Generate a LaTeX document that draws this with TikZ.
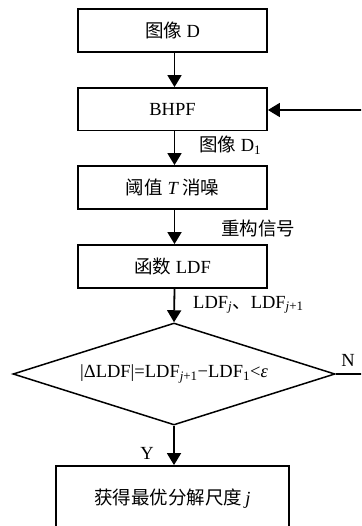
\documentclass[tikz,border=0pt]{standalone}
\usepackage{fontspec}
\setmainfont{Liberation Serif}
\newfontfamily\cjk{Noto Sans CJK SC}
\usetikzlibrary{arrows.meta,shapes.geometric}
\begin{document}
\begin{tikzpicture}[x=1pt,y=-1pt,
  font=\fontsize{18.5}{22}\selectfont,
  box/.style={draw,line width=1.8pt,inner sep=0pt,minimum height=43pt},
  arr/.style={line width=1.8pt,-{Triangle[width=14pt,length=12pt]}},
  lbl/.style={inner sep=0pt}]
\clip (0,0) rectangle (361,526);
\node[box,minimum width=189pt] (b1) at (172.5,30.5) {{\cjk 图像} D};
\node[box,minimum width=189pt,minimum height=42.5pt] (b2) at (172.5,109.25) {BHPF};
\node[box,minimum width=189pt] (b3) at (172.5,187.5) {{\cjk 阈值} \textit{T}\,{\cjk 消噪}};
\node[box,minimum width=189pt] (b4) at (172.5,266.5) {{\cjk 函数} LDF};
\node[diamond,draw,line width=1.5pt,inner sep=0pt,aspect=3.16,minimum width=322pt,minimum height=102pt] (d) at (174,374)
  {|ΔLDF|=LDF\textsubscript{\textit{j}+1}−LDF\textsubscript{1}<\textit{ε}};
\node[box,minimum width=233pt,minimum height=66pt] (b5) at (172.5,499) {{\cjk 获得最优分解尺度}\,\textit{j}};
\coordinate (c1) at (390,374);
\coordinate (c2) at (390,110);
\draw[arr] (b1.south -| 174.5,0) -- (b2.north -| 174.5,0);
\draw[arr] (b2.south -| 174.5,0) -- (b3.north -| 174.5,0);
\draw[arr] (b3.south -| 174.5,0) -- (b4.north -| 174.5,0);
\draw[arr] (b4.south -| 174.5,0) -- (d.north);
\draw[arr] (d.south) -- (b5.north -| 174,0);
\draw[arr] (d.east) -- (c1) -- (c2) -- (b2.east |- c2);
\node[lbl,anchor=west] (l1) at (199,145) {{\cjk 图像} D\textsubscript{1}};
\node[lbl,anchor=west] (l2) at (221,228) {\cjk 重构信号};
\node[lbl,anchor=west] (l3) at (193,305) {LDF\textsubscript{\textit{j}}{\cjk 、}LDF\textsubscript{\textit{j}+1}};
\node[lbl] (n) at (348,360) {N};
\node[lbl] (y) at (147,453) {Y};
\end{tikzpicture}
\end{document}
